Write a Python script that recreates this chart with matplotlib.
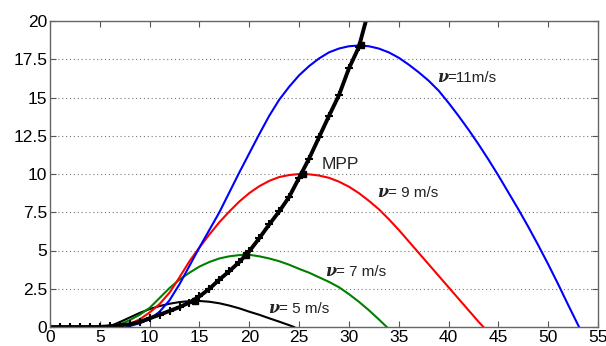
import matplotlib
matplotlib.use("Agg")
import matplotlib.pyplot as plt
from matplotlib.offsetbox import TextArea, HPacker, AnnotationBbox

# ---- data ----
v5_x = [5.5, 6, 7, 8, 9, 10, 11, 12, 13, 14, 15, 16, 17, 18, 19, 20, 21, 22, 23, 24, 24.5]
v5_y = [0, 0.05, 0.32, 0.62, 0.92, 1.17, 1.37, 1.52, 1.63, 1.69, 1.7, 1.65, 1.55, 1.4, 1.22, 1.0, 0.8, 0.57, 0.35, 0.12, 0]

v7_x = [5.5, 6, 7, 8, 9, 10, 11, 12, 13, 14, 15, 16, 17, 18, 19, 20, 21, 22, 23, 24, 25, 26, 27, 28, 29, 30, 31, 32, 33, 33.8]
v7_y = [0, 0.03, 0.17, 0.45, 0.8, 1.25, 1.9, 2.55, 3.1, 3.55, 3.95, 4.25, 4.48, 4.62, 4.7, 4.72, 4.62, 4.48, 4.3, 4.07, 3.8, 3.55, 3.25, 2.95, 2.6, 2.15, 1.65, 1.1, 0.5, 0]

v9_x = [6.7, 8, 9, 10, 11, 12, 13, 14, 15, 16, 17, 18, 19, 20, 21, 22, 23, 24, 25, 26, 27, 28, 29, 30, 31, 32, 33, 34, 35, 36, 37, 38, 39, 40, 41, 42, 43, 43.5]
v9_y = [0, 0.2, 0.5, 0.95, 1.5, 2.25, 3.25, 4.3, 5.2, 6.05, 6.85, 7.55, 8.2, 8.75, 9.2, 9.55, 9.8, 9.93, 10.0, 9.98, 9.9, 9.75, 9.5, 9.17, 8.75, 8.25, 7.7, 7.05, 6.35, 5.6, 4.85, 4.1, 3.35, 2.6, 1.85, 1.1, 0.35, 0]

v11_x = [7.7, 9, 10, 11, 12, 13, 14, 15, 16, 17, 18, 19, 20, 21, 22, 23, 24, 25, 26, 27, 28, 29, 30, 31, 32, 33, 34, 35, 36, 37, 38, 39, 40, 41, 42, 43, 44, 45, 46, 47, 48, 49, 50, 51, 52, 53.1]
v11_y = [0, 0.25, 0.5, 1.0, 1.75, 2.8, 4.0, 5.2, 6.35, 7.5, 8.8, 10.1, 11.35, 12.6, 13.8, 14.85, 15.7, 16.45, 17.05, 17.55, 17.95, 18.2, 18.35, 18.4, 18.35, 18.2, 17.95, 17.6, 17.15, 16.65, 16.1, 15.45, 14.65, 13.8, 12.9, 11.95, 10.95, 9.9, 8.8, 7.7, 6.55, 5.35, 4.1, 2.8, 1.45, 0]

mpp_x = [0, 1, 2, 3, 4, 5, 6, 7, 8, 9, 10, 11, 12, 13, 14, 15, 16, 17, 18, 19, 20, 21, 22, 23, 24, 25, 26, 27, 28, 29, 30, 31, 31.7, 32.0]
mpp_y = [0, 0, 0, 0, 0, 0, 0.05, 0.1, 0.18, 0.33, 0.57, 0.8, 1.05, 1.3, 1.6, 2.0, 2.5, 3.1, 3.65, 4.25, 4.95, 5.8, 6.7, 7.55, 8.5, 9.75, 11.0, 12.4, 13.8, 15.15, 16.9, 18.3, 20.0, 20.6]

peak_x = [14.6, 19.7, 25.4, 31.2]
peak_y = [1.7, 4.72, 10.0, 18.4]

x_ticks = [0, 5, 10, 15, 20, 25, 30, 35, 40, 45, 50, 55]
y_ticks = [0, 2.5, 5, 7.5, 10, 12.5, 15, 17.5, 20]
y_tick_labels = ["0", "2.5", "5", "7.5", "10", "12.5", "15", "17.5", "20"]

labels = ["=11m/s", "= 9 m/s", "= 7 m/s", "= 5 m/s"]
label_x = [38.8, 32.8, 27.6, 21.9]
label_y = [16.3, 8.76, 3.66, 1.18]

plt.rcParams['font.family'] = ['Liberation Sans', 'DejaVu Sans']

fig = plt.figure(figsize=(6.06, 3.46), dpi=100)
ax = fig.add_axes([50/606, 1-327/346, 548/606, 306/346])

ax.plot(v5_x, v5_y, color='black', lw=1.5)
ax.plot(v7_x, v7_y, color='#008000', lw=1.5)
ax.plot(v9_x, v9_y, color='red', lw=1.5)
ax.plot(v11_x, v11_y, color='blue', lw=1.5)
ax.plot(mpp_x, mpp_y, color='black', lw=2.8, marker='+', ms=6, mew=1.5)
ax.plot(peak_x, peak_y, ls='none', marker='s', color='black', ms=4.5)

ax.set_xlim(0, 55)
ax.set_ylim(0, 20)
ax.set_xticks(x_ticks)
ax.set_yticks(y_ticks)
ax.set_yticklabels(y_tick_labels)
ax.tick_params(direction='in', top=True, right=True, length=4, width=0.8,
               color='#555555', labelsize=12.5, pad=2)
ax.yaxis.grid(True, ls=(0, (1, 2.5)), color='#777777', lw=0.8)
for s in ax.spines.values():
    s.set_color('#666666')
    s.set_linewidth(1.0)

for lab, lx, ly in zip(labels, label_x, label_y):
    nu = TextArea('ν', textprops=dict(family='DejaVu Serif', style='italic',
                                      weight='bold', size=11.5, color='#222222'))
    rest = TextArea(lab, textprops=dict(size=11, color='#222222'))
    pack = HPacker(children=[nu, rest], align='baseline', pad=0, sep=0)
    ab = AnnotationBbox(pack, (lx, ly), xycoords='data', box_alignment=(0, 0.5),
                        frameon=False, pad=0)
    ax.add_artist(ab)

ax.text(27.3, 10.6, 'MPP', fontsize=12.5, color='#222222', va='center', ha='left')

fig.savefig('out.png', dpi=100)
